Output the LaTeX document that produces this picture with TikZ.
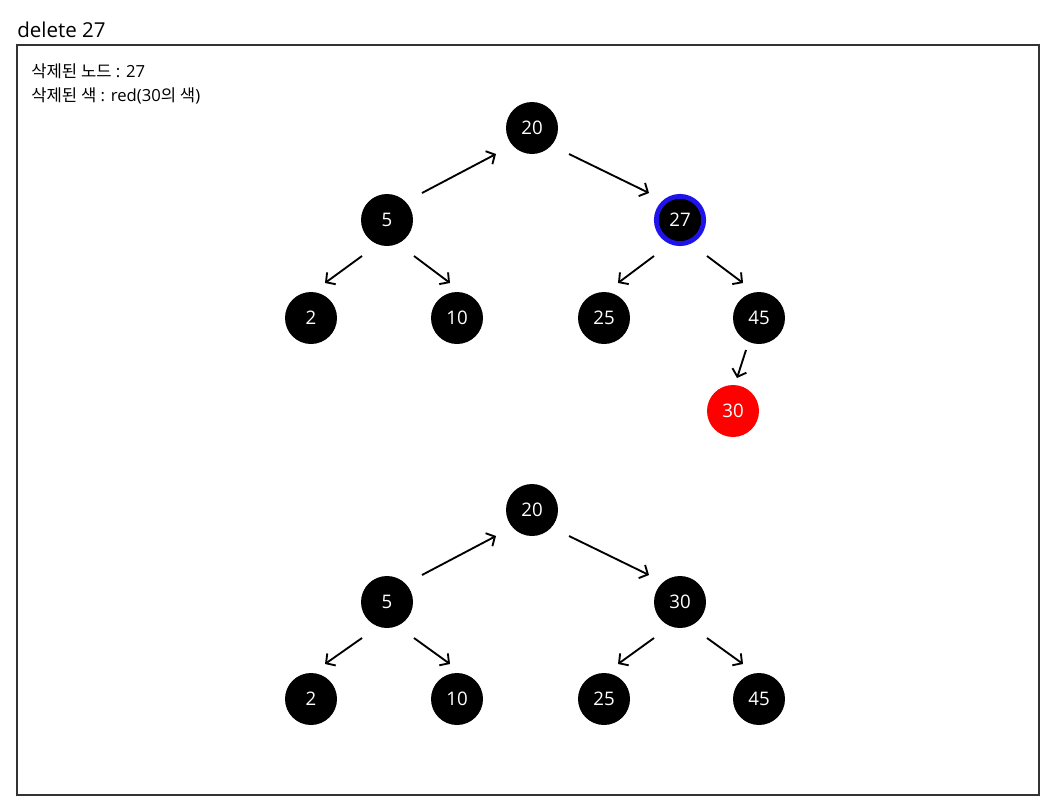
\documentclass[tikz,border=0pt]{standalone}
\usepackage{fontspec}
\setmainfont{Open Sans}
\newfontfamily\krfont{Noto Sans CJK KR}
\usetikzlibrary{arrows.meta,calc}
\definecolor{ringblue}{RGB}{30,20,235}
\definecolor{nodered}{RGB}{255,0,0}

\begin{document}
\begin{tikzpicture}[
    x=0.75pt, y=-0.75pt,
    rb/.style={circle, fill=black, text=white, minimum size=39pt, inner sep=0pt, font=\fontsize{14}{16}\selectfont},
    rbred/.style={rb, fill=nodered},
    rbmark/.style={rb, draw=ringblue, line width=3.6pt, minimum size=35.5pt},
    arr/.style={-{Straight Barb[length=5pt,width=11pt]}, line width=1.4pt},
    note/.style={anchor=base west, font=\fontsize{12.5}{14}\selectfont, inner sep=0pt}
]
    \useasboundingbox (0,0) rectangle (1056,810);

    % ---- frame and notes ----
    \node[anchor=base west, inner sep=0pt, font=\fontsize{15.4}{18}\selectfont] (title) at (17,37) {delete 27};
    \draw[line width=0.8pt, draw=black!80] (17,45) rectangle (1039,795);
    \node[note] (note1) at (31,77) {{\krfont 삭제된 노드} : 27};
    \node[note] (note2) at (31,101) {{\krfont 삭제된 색} : red(30{\krfont 의 색})};

    % ---- before ----
    \node[rb] (a20) at (532,128) {20};
    \node[rb] (a5) at (387,220) {5};
    \node[rbmark] (a27) at (680,220) {27};
    \node[rb] (a2) at (311,318) {2};
    \node[rb] (a10) at (457,318) {10};
    \node[rb] (a25) at (604,318) {25};
    \node[rb] (a45) at (759,318) {45};
    \node[rbred] (a30) at (733,411) {30};
    \draw[arr] ($(a5)+(35,-27)$) -- ($(a20)+(-36,26)$);
    \draw[arr] ($(a20)+(37,26)$) -- ($(a27)+(-31,-27)$);
    \draw[arr] ($(a5)+(-25,36)$) -- ($(a2)+(14,-35)$);
    \draw[arr] ($(a5)+(27,36)$) -- ($(a10)+(-7,-35)$);
    \draw[arr] ($(a27)+(-26,36)$) -- ($(a25)+(14,-35)$);
    \draw[arr] ($(a27)+(27,36)$) -- ($(a45)+(-16,-35)$);
    \draw[arr] ($(a45)+(-13,32)$) -- ($(a30)+(4,-33)$);

    % ---- after ----
    \node[rb] (b20) at (532,510) {20};
    \node[rb] (b5) at (387,602) {5};
    \node[rb] (b30) at (680,602) {30};
    \node[rb] (b2) at (311,699) {2};
    \node[rb] (b10) at (457,699) {10};
    \node[rb] (b25) at (604,699) {25};
    \node[rb] (b45) at (759,699) {45};
    \draw[arr] ($(b5)+(35,-27)$) -- ($(b20)+(-36,26)$);
    \draw[arr] ($(b20)+(37,26)$) -- ($(b30)+(-31,-27)$);
    \draw[arr] ($(b5)+(-25,36)$) -- ($(b2)+(14,-35)$);
    \draw[arr] ($(b5)+(27,36)$) -- ($(b10)+(-7,-35)$);
    \draw[arr] ($(b30)+(-26,36)$) -- ($(b25)+(14,-35)$);
    \draw[arr] ($(b30)+(27,36)$) -- ($(b45)+(-16,-35)$);
\end{tikzpicture}
\end{document}
